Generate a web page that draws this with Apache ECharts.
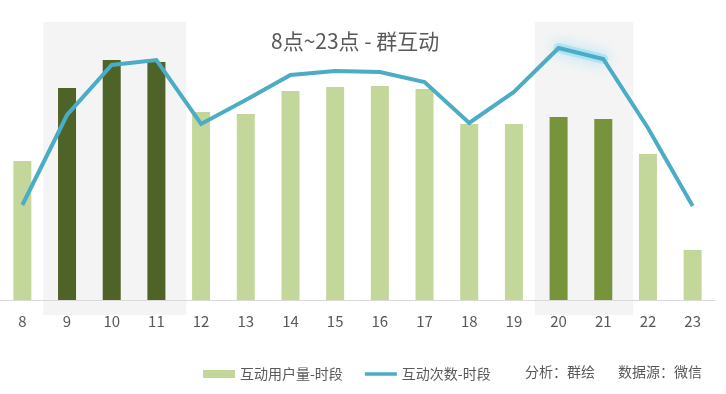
<!DOCTYPE html>
<html><head><meta charset="utf-8">
<script src="https://cdn.jsdelivr.net/npm/echarts@6/dist/echarts.min.js"></script>
<style>html,body{margin:0;padding:0;background:#fff}#c{width:726px;height:394px}</style>
</head><body><div id="c"></div>
<script>
const categories = ['8','9','10','11','12','13','14','15','16','17','18','19','20','21','22','23'];
const userCounts = [139, 212, 240, 238, 188, 186, 209, 213, 214, 211, 176, 176, 183, 181, 146, 50];
const interactCounts = [95, 185, 235, 240, 176, 200, 225, 229, 228, 218, 177, 208, 252, 241, 172, 94];
const peakMorning = ['9','10','11'];
const peakEvening = ['20','21'];
const shadeRanges = [['9','11'],['20','21']];
const glowHours = ['20','21'];

const FONT = '"Noto Sans CJK SC", "Noto Sans", sans-serif';
const TXT = '#595959';

const barData = userCounts.map((v, i) => {
  const c = categories[i];
  let color = '#c4d79b';
  if (peakMorning.includes(c)) color = '#4f6228';
  else if (peakEvening.includes(c)) color = '#77933c';
  return { value: v, itemStyle: { color } };
});
const glowData = interactCounts.map((v, i) => glowHours.includes(categories[i]) ? v : '-');
const shadeAreas = shadeRanges.map(([a, b]) => [
  { xAxis: categories.indexOf(a) - 0.53 },
  { xAxis: categories.indexOf(b) + 0.67 }
]);

const chart = echarts.init(document.getElementById('c'), null, { renderer: 'canvas' });
chart.setOption({
  animation: false,
  textStyle: { fontFamily: FONT },
  title: [
    { text: '8点~23点 - 群互动', left: 266, top: 26,
      textStyle: { fontSize: 21, fontWeight: 'normal', color: TXT, fontFamily: FONT } },
    { text: '分析：群绘', left: 520, top: 360,
      textStyle: { fontSize: 14, fontWeight: 'normal', color: TXT, fontFamily: FONT } },
    { text: '数据源：微信', left: 613, top: 360,
      textStyle: { fontSize: 14, fontWeight: 'normal', color: TXT, fontFamily: FONT } }
  ],
  legend: {
    left: 198, top: 362, itemGap: 22, itemWidth: 32, itemHeight: 8,
    symbolKeepAspect: true,
    textStyle: { fontSize: 14, color: TXT, fontFamily: FONT },
    data: [
      { name: '互动用户量-时段', icon: 'rect', itemStyle: { color: '#c4d79b' } },
      { name: '互动次数-时段', icon: 'path://M0,0H36V4H0Z', itemStyle: { color: '#4bacc6' } }
    ]
  },
  grid: [
    { left: 0, width: 715, top: 0, bottom: 94, containLabel: false },
    { left: 0, width: 715, top: 22, height: 293, containLabel: false }
  ],
  xAxis: [
    { type: 'category', data: categories, gridIndex: 0, z: 5,
      axisLine: { lineStyle: { color: '#d9d9d9', width: 1 } },
      axisTick: { show: false },
      axisLabel: { color: TXT, fontSize: 15, margin: 14, fontFamily: FONT } },
    { type: 'value', gridIndex: 1, min: -0.5, max: 15.5, show: false }
  ],
  yAxis: [
    { type: 'value', gridIndex: 0, min: 0, max: 300, show: false, splitLine: { show: false } },
    { type: 'value', gridIndex: 1, min: 0, max: 1, show: false, splitLine: { show: false } }
  ],
  series: [
    { name: 'shade', type: 'line', xAxisIndex: 1, yAxisIndex: 1, data: [], z: 0, silent: true,
      markArea: { silent: true, itemStyle: { color: '#f4f4f4' }, data: shadeAreas } },
    { name: '互动用户量-时段', type: 'bar', data: barData, barWidth: 18, z: 2,
      itemStyle: { color: '#c4d79b' } },
    { name: 'glow', type: 'line', data: glowData, symbol: 'none', z: 3, silent: true,
      lineStyle: { color: 'rgba(110,215,245,0.4)', width: 10, cap: 'round', join: 'round',
        shadowColor: 'rgba(80,205,245,1)', shadowBlur: 14 } },
    { name: '互动次数-时段', type: 'line', data: interactCounts, symbol: 'none', z: 4,
      itemStyle: { color: '#4bacc6' },
      lineStyle: { color: '#4bacc6', width: 4, join: 'miter' } }
  ]
});
</script></body></html>
